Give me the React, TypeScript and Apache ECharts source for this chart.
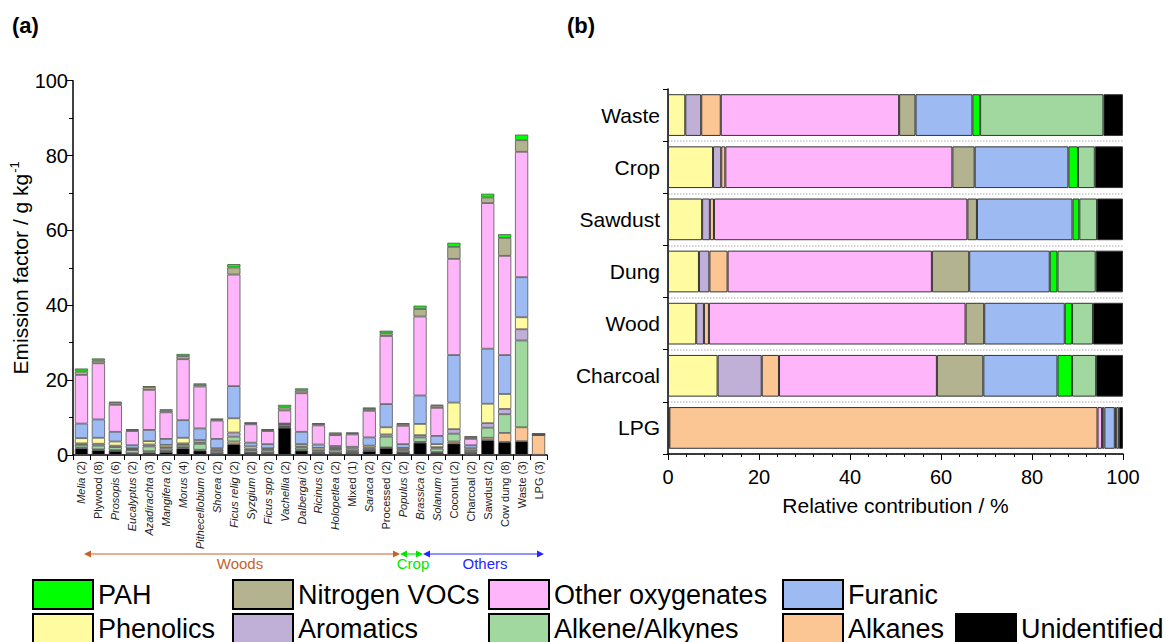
import React, { useEffect, useRef } from 'react';
import * as echarts from 'echarts';

const FONT = '"Liberation Sans", Arial, Helvetica, sans-serif';

// ---------- Panel (a): emission factors (g/kg) ----------
const sourceNames = ['Melia', 'Plywood', 'Prosopis', 'Eucalyptus', 'Azadirachta', 'Mangifera', 'Morus', 'Pithecellobium', 'Shorea', 'Ficus relig', 'Syzgium', 'Ficus spp', 'Vachellia', 'Dalbergai', 'Ricinus', 'Holopetlea', 'Mixed', 'Saraca', 'Processed', 'Populus', 'Brassica', 'Solanum', 'Coconut', 'Charcoal', 'Sawdust', 'Cow dung', 'Waste', 'LPG'];
const sampleCounts = [2, 8, 6, 2, 3, 2, 4, 2, 2, 2, 2, 2, 2, 2, 2, 2, 1, 2, 2, 2, 2, 2, 2, 2, 2, 8, 3, 3];
const italicName = [true, false, true, true, true, true, true, true, true, true, true, true, true, true, true, true, false, true, false, true, true, true, false, false, false, false, false, false];

const efUnidentified = [1.8, 1.3, 1.1, 0.4, 0.6, 0.8, 1.8, 1.2, 0.4, 2.9, 0.6, 0.5, 7.3, 1.2, 0.5, 0.5, 0.5, 1.1, 1.9, 0.6, 3.3, 0.6, 3.1, 0.3, 4.0, 3.5, 3.7, 0.05];
const efAlkanes = [0.2, 0.2, 0.2, 0.1, 0.4, 0.3, 0.3, 0.2, 0.1, 0.7, 0.1, 0.1, 0.2, 0.2, 0.1, 0.1, 0.1, 0.2, 0.1, 0.1, 0.2, 0.2, 0.5, 0.2, 0.6, 2.4, 3.7, 5.3];
const efAlkene = [0.7, 1.0, 0.8, 0.8, 1.3, 0.6, 0.6, 1.6, 0.5, 1.3, 0.6, 0.6, 0.2, 0.6, 0.3, 0.6, 0.4, 0.4, 2.9, 0.5, 1.2, 0.9, 2.1, 0.3, 2.7, 5.0, 23.2, 0.03];
const efAromatics = [0.4, 0.5, 0.4, 0.3, 0.5, 0.4, 0.4, 0.4, 0.4, 1.1, 0.4, 0.3, 0.5, 0.3, 0.4, 0.4, 0.2, 0.3, 0.6, 0.3, 0.6, 0.4, 1.2, 0.5, 1.2, 1.4, 3.0, 0.01];
const efPhenolics = [1.4, 1.6, 1.1, 0.2, 0.9, 0.6, 1.5, 0.6, 0.4, 3.8, 0.6, 0.3, 0.1, 0.6, 0.6, 0.3, 0.5, 0.5, 1.9, 0.4, 3.0, 0.8, 7.1, 0.5, 5.2, 4.0, 3.2, 0.01];
const efFuranic = [3.9, 4.9, 2.6, 0.8, 3.0, 1.6, 4.7, 3.1, 2.5, 8.6, 1.0, 1.1, 0.1, 3.3, 0.9, 0.5, 0.5, 2.2, 6.2, 1.0, 7.6, 2.2, 12.7, 0.8, 14.7, 10.4, 10.7, 0.13];
const efOtherOx = [13.0, 15.0, 7.2, 3.8, 10.7, 7.1, 16.3, 11.2, 4.9, 29.8, 4.9, 3.5, 3.5, 10.3, 5.1, 2.9, 3.3, 7.1, 18.2, 4.9, 21.1, 7.5, 25.7, 1.7, 38.9, 26.5, 33.5, 0.06];
const efNitrogen = [0.9, 0.7, 0.6, 0.3, 0.7, 0.5, 0.8, 0.5, 0.3, 1.9, 0.3, 0.3, 0.8, 0.7, 0.4, 0.4, 0.3, 0.5, 0.7, 0.5, 2.0, 0.6, 3.2, 0.5, 1.5, 4.8, 3.1, 0.03];
const efPAH = [0.8, 0.6, 0.2, 0.2, 0.3, 0.3, 0.6, 0.3, 0.2, 0.9, 0.2, 0.2, 0.7, 0.6, 0.2, 0.3, 0.2, 0.4, 0.7, 0.2, 0.9, 0.2, 1.1, 0.2, 1.0, 1.0, 1.5, 0.02];

const efTicks = [0, 20, 40, 60, 80, 100];

// ---------- Panel (b): relative contribution (%) ----------
const fuels = ['Waste', 'Crop', 'Sawdust', 'Dung', 'Wood', 'Charcoal', 'LPG'];
const pcPhenolics = [3.8, 9.9, 7.5, 6.8, 6.2, 10.9, 0.2];
const pcAromatics = [3.5, 1.8, 1.7, 2.3, 1.7, 9.7, 0.1];
const pcAlkanes = [4.3, 0.9, 0.9, 4.0, 1.1, 3.8, 94.1];
const pcOtherOx = [39.2, 49.9, 55.7, 44.9, 56.4, 34.7, 1.0];
const pcNitrogen = [3.6, 4.9, 2.1, 8.2, 4.1, 10.2, 0.5];
const pcFuranic = [12.5, 20.6, 21.0, 17.7, 17.7, 16.3, 2.3];
const pcPAH = [1.7, 2.1, 1.5, 1.7, 1.6, 3.2, 0.3];
const pcAlkene = [27.1, 3.7, 3.9, 8.4, 4.6, 5.3, 0.6];
const pcUnidentified = [4.3, 6.2, 5.7, 6.0, 6.6, 5.9, 0.9];

const COLORS: Record<string, string> = {
  'PAH': '#00ff00',
  'Nitrogen VOCs': '#b3b38f',
  'Other oxygenates': '#ffb5fa',
  'Furanic': '#9dbbf2',
  'Phenolics': '#fffba0',
  'Aromatics': '#c0b0d8',
  'Alkene/Alkynes': '#a0d8a0',
  'Alkanes': '#fbc694',
  'Unidentified': '#000000',
};

const stackA: [string, number[]][] = [
  ['Unidentified', efUnidentified],
  ['Alkanes', efAlkanes],
  ['Alkene/Alkynes', efAlkene],
  ['Aromatics', efAromatics],
  ['Phenolics', efPhenolics],
  ['Furanic', efFuranic],
  ['Other oxygenates', efOtherOx],
  ['Nitrogen VOCs', efNitrogen],
  ['PAH', efPAH],
];

const stackB: [string, number[]][] = [
  ['Phenolics', pcPhenolics],
  ['Aromatics', pcAromatics],
  ['Alkanes', pcAlkanes],
  ['Other oxygenates', pcOtherOx],
  ['Nitrogen VOCs', pcNitrogen],
  ['Furanic', pcFuranic],
  ['PAH', pcPAH],
  ['Alkene/Alkynes', pcAlkene],
  ['Unidentified', pcUnidentified],
];

const legendLayout: [string, number, number][] = [
  ['PAH', 32, 579],
  ['Nitrogen VOCs', 232, 579],
  ['Other oxygenates', 488, 579],
  ['Furanic', 782, 579],
  ['Phenolics', 32, 613],
  ['Aromatics', 232, 613],
  ['Alkene/Alkynes', 488, 613],
  ['Alkanes', 782, 613],
  ['Unidentified', 955, 613],
];

function arrow(x1: number, x2: number, y: number, color: string) {
  const h = 7, w = 3.5;
  return [
    { type: 'line', shape: { x1: x1 + 2, y1: y, x2: x2 - 2, y2: y }, style: { stroke: color, lineWidth: 1.2 } },
    { type: 'polygon', shape: { points: [[x1, y], [x1 + h, y - w], [x1 + h, y + w]] }, style: { fill: color } },
    { type: 'polygon', shape: { points: [[x2, y], [x2 - h, y - w], [x2 - h, y + w]] }, style: { fill: color } },
  ];
}

export default function App() {
  const ref = useRef<HTMLDivElement>(null);
  useEffect(() => {
    if (!ref.current) return;
    const chart = echarts.init(ref.current, null, { renderer: 'svg' });
    const categories = sourceNames.map((n, i) => `${n} (${sampleCounts[i]})`);

    const seriesA = stackA.map(([name, data]) => ({
      type: 'bar',
      name,
      stack: 'a',
      xAxisIndex: 0,
      yAxisIndex: 0,
      barWidth: '78%',
      data,
      itemStyle: { color: COLORS[name], borderColor: '#555', borderWidth: 0.8 },
    }));
    const seriesB = stackB.map(([name, data]) => ({
      type: 'bar',
      name,
      stack: 'b',
      xAxisIndex: 1,
      yAxisIndex: 1,
      barWidth: '80%',
      data,
      itemStyle: { color: COLORS[name], borderColor: '#333', borderWidth: 1 },
    }));

    const legends = legendLayout.map(([name, left, top]) => ({
      data: [name],
      left,
      top,
      padding: 0,
      itemWidth: 60,
      itemHeight: 29,
      selectedMode: false,
      icon: 'rect',
      itemStyle: { borderColor: '#000', borderWidth: 2 },
      textStyle: { fontFamily: FONT, fontSize: 27, color: '#000', padding: [0, 0, 0, 0] },
    }));

    const labelColor = '#000';

    chart.setOption({
      animation: false,
      textStyle: { fontFamily: FONT },
      legend: legends,
      grid: [
        { left: 73, right: 625, top: 80.7, bottom: 187, containLabel: false },
        { left: 668, right: 49, top: 89, bottom: 188, containLabel: false },
      ],
      xAxis: [
        {
          type: 'category',
          gridIndex: 0,
          data: categories,
          axisLine: { lineStyle: { color: '#000', width: 1.5 } },
          axisTick: { show: true, length: 5, lineStyle: { color: '#000' } },
          axisLabel: {
            rotate: 90,
            interval: 0,
            fontSize: 11,
            color: '#222',
            margin: 6,
            formatter: (v: string, idx: number) => {
              const n = sourceNames[idx];
              const c = sampleCounts[idx];
              return italicName[idx] ? `{i|${n}} (${c})` : `${n} (${c})`;
            },
            rich: { i: { fontStyle: 'italic', fontSize: 11, color: '#222', fontFamily: FONT } },
          },
        },
        {
          type: 'value',
          gridIndex: 1,
          min: 0,
          max: 100,
          interval: 20,
          name: 'Relative contribution / %',
          nameLocation: 'middle',
          nameGap: 41,
          nameTextStyle: { fontSize: 21, color: labelColor, fontFamily: FONT },
          axisLine: { show: true, lineStyle: { color: '#000', width: 1.5 } },
          axisTick: { show: true, length: 6, lineStyle: { color: '#000' } },
          minorTick: { show: true, splitNumber: 5, length: 3, lineStyle: { color: '#000' } },
          splitLine: { show: false },
          axisLabel: { fontSize: 20, color: labelColor, margin: 13 },
        },
      ],
      yAxis: [
        {
          type: 'value',
          gridIndex: 0,
          min: 0,
          max: 100,
          interval: 20,
          name: '{n|Emission factor / g kg}{s|-1}',
          nameLocation: 'middle',
          nameRotate: 90,
          nameGap: 28,
          nameTextStyle: {
            rich: {
              n: { fontSize: 21, color: labelColor, fontFamily: FONT },
              s: { fontSize: 13, color: labelColor, fontFamily: FONT, padding: [0, 0, 11, 1] },
            },
          },
          axisLine: { show: true, lineStyle: { color: '#000', width: 1.5 } },
          axisTick: { show: true, length: 6, lineStyle: { color: '#000' } },
          minorTick: { show: true, splitNumber: 2, length: 4, lineStyle: { color: '#000' } },
          splitLine: { show: false },
          axisLabel: { fontSize: 20, color: labelColor, margin: 5, customValues: efTicks },
        },
        {
          type: 'category',
          gridIndex: 1,
          inverse: true,
          data: fuels,
          axisLine: { lineStyle: { color: '#000', width: 1.5 } },
          axisTick: { show: true, length: 5, lineStyle: { color: '#000' } },
          splitLine: { show: true, interval: (idx: number) => idx !== 0, lineStyle: { color: '#c8c8c8', type: 'dotted', width: 1.5 } },
          axisLabel: { fontSize: 21, color: labelColor, margin: 8 },
        },
      ],
      series: [...seriesA, ...seriesB],
      graphic: [
        { type: 'text', left: 12, top: 14, style: { text: '(a)', font: `bold 22px ${FONT}`, fill: '#000' } },
        { type: 'text', left: 567, top: 14, style: { text: '(b)', font: `bold 22px ${FONT}`, fill: '#000' } },
        ...arrow(84, 400, 554, '#c5632a'),
        ...arrow(400, 423, 554, '#00e600'),
        ...arrow(423, 544, 554, '#2525ff'),
        { type: 'text', x: 240, y: 563, style: { text: 'Woods', font: `15px ${FONT}`, fill: '#c5632a', align: 'center', verticalAlign: 'middle' } },
        { type: 'text', x: 413, y: 563, style: { text: 'Crop', font: `15px ${FONT}`, fill: '#00e600', align: 'center', verticalAlign: 'middle' } },
        { type: 'text', x: 485, y: 563, style: { text: 'Others', font: `15px ${FONT}`, fill: '#2525ff', align: 'center', verticalAlign: 'middle' } },
      ],
    });
    return () => chart.dispose();
  }, []);

  return (
    <div
      ref={ref}
      style={{ position: 'absolute', left: 0, top: 0, width: 1172, height: 642, background: '#fff' }}
    />
  );
}
